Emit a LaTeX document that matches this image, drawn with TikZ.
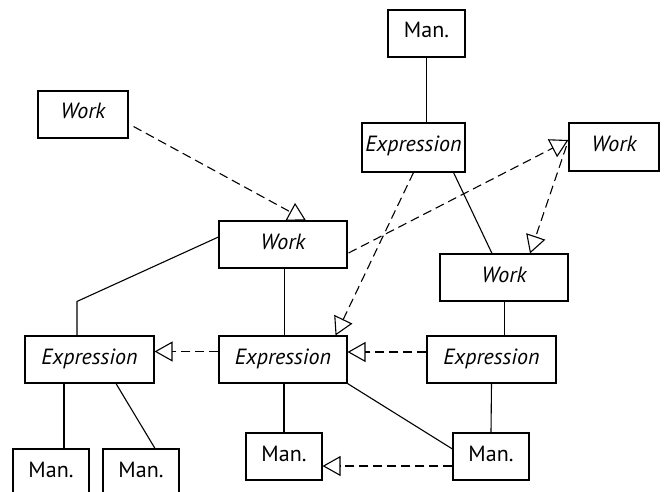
\documentclass[tikz,border=0pt]{standalone}
\usepackage{fontspec}
\setmainfont{PT Sans}
\usetikzlibrary{arrows.meta}
\begin{document}
\begin{tikzpicture}[x=1pt,y=-1pt,
  box/.style={draw, line width=1.1pt, rectangle, inner sep=0pt,
    minimum height=47pt, text height=14pt, text depth=5pt,
    font=\fontsize{22}{24}\selectfont},
  itbox/.style={box, font=\fontsize{22}{24}\selectfont\itshape},
  conn/.style={line width=1.1pt},
  dep/.style={line width=1.1pt, dash pattern=on 9pt off 5pt,
    -{Triangle[open,length=18pt,width=20pt,line width=1.1pt]}},
  ]
\useasboundingbox (0,0) rectangle (664,492);
% nodes
\node[box, minimum width=77pt] (manT) at (426.5,33.5) {Man.};
\node[itbox, minimum width=103pt, minimum height=49pt] (exprT) at (413.5,147.5) {Expression};
\node[itbox, minimum width=90pt, minimum height=48pt] (workRT) at (614,147) {Work};
\node[itbox, minimum width=90pt] (workL) at (83,114.5) {Work};
\node[itbox, minimum width=128pt] (workC) at (283,244.5) {Work};
\node[itbox, minimum width=128pt] (workR) at (504,277.5) {Work};
\node[itbox, minimum width=129pt] (exprL) at (89.5,359.5) {Expression};
\node[itbox, minimum width=128pt] (exprC) at (283,359.5) {Expression};
\node[itbox, minimum width=129pt] (exprR) at (491.5,359.5) {Expression};
\node[box, minimum width=76pt] (manBL1) at (51,472.5) {Man.};
\node[box, minimum width=76pt] (manBL2) at (141,472.5) {Man.};
\node[box, minimum width=76pt] (manC) at (284,456.5) {Man.};
\node[box, minimum width=76pt] (manR) at (491,456.5) {Man.};
% solid connectors
\draw[conn] (manT.south) -- (manT.south |- exprT.north);
\draw[conn] ([shift={(-12,0)}]exprT.south east) -- ([shift={(-12,0)}]workR.north);
\draw[conn] ([shift={(0,-7.5)}]workC.west) -- ([shift={(-12.5,-34)}]exprL.north) -- ([shift={(-12.5,0)}]exprL.north);
\draw[conn] ([shift={(1.5,0)}]workC.south) -- ([shift={(1.5,0)}]exprC.north);
\draw[conn] ([shift={(0.5,0)}]workR.south) -- ([shift={(13,0)}]exprR.north);
\draw[conn] ([shift={(-25.5,0)}]exprL.south) -- ([shift={(13,0)}]manBL1.north);
\draw[conn] ([shift={(26.5,0)}]exprL.south) -- ([shift={(14,0)}]manBL2.north);
\draw[conn] ([shift={(1,0)}]exprC.south) -- (manC.north);
\draw[conn] (exprC.south east) -- ([shift={(0,-7.5)}]manR.west);
\draw[conn] (exprR.south) -- (manR.north);
% dependency connectors
\draw[dep] ([shift={(5,12)}]workL.east) -- ([shift={(23,0)}]workC.north);
\draw[dep] (exprT.south) -- ([shift={(-12,0)}]exprC.north east);
\draw[dep] ([shift={(1,8.5)}]workC.east) -- ([shift={(0,-7)}]workRT.west);
\draw[dep] ([shift={(-2,-1)}]workRT.west) -- ([shift={(26,0)}]workR.north);
\draw[dep] ([shift={(0,-8)}]exprC.west) -- ([shift={(0,-8)}]exprL.east);
\draw[dep] ([shift={(0,-7.5)}]exprR.west) -- ([shift={(0,-7.5)}]exprC.east);
\draw[dep] ([shift={(0,9.5)}]manR.west) -- ([shift={(0,9.5)}]manC.east);
\end{tikzpicture}
\end{document}
